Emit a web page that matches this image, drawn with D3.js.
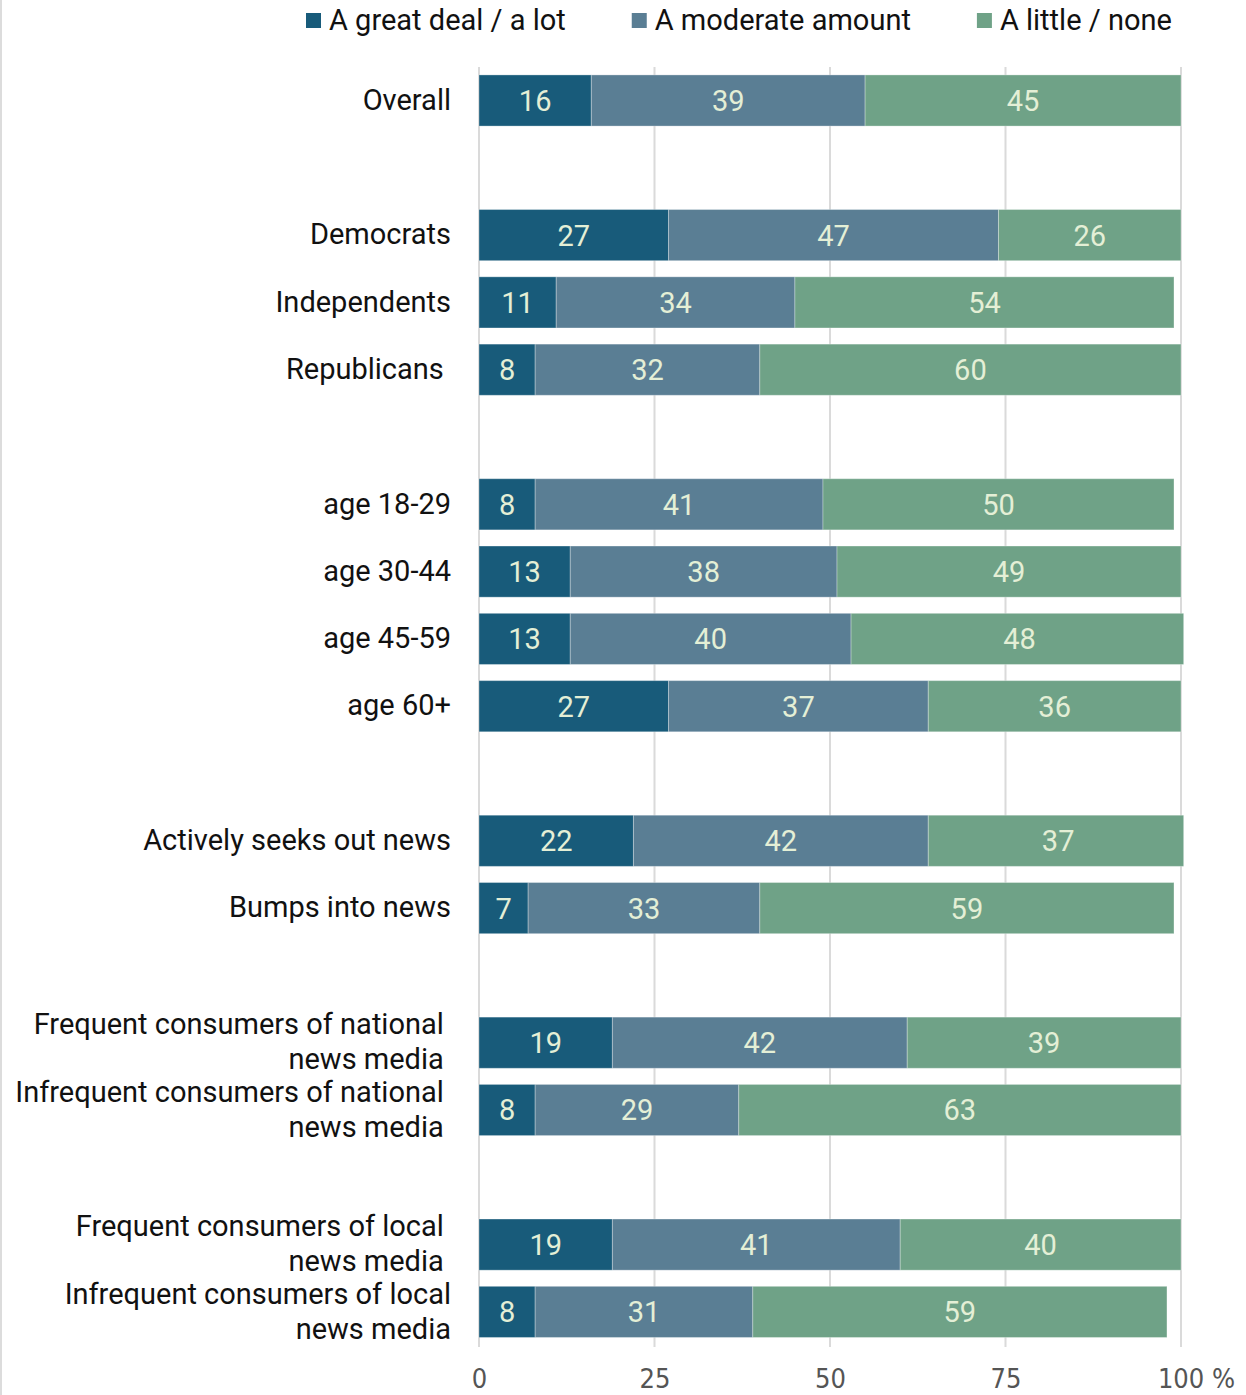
<!DOCTYPE html>
<html>
<head>
<meta charset="utf-8">
<script src="https://cdn.jsdelivr.net/npm/d3@7/dist/d3.min.js"></script>
<style>
  html, body { margin: 0; padding: 0; background: #fff; }
  svg { display: block; }
  text { font-family: Roboto, "Noto Sans", sans-serif; }
  .cat-label { white-space: pre; }
</style>
</head>
<body>
<svg id="chart" width="1246" height="1395"></svg>
<script>
// Respondent groups (trailing spaces are part of the original labels)
const categories = [
  "Overall",
  "Democrats", "Independents", "Republicans ",
  "age 18-29", "age 30-44", "age 45-59", "age 60+",
  "Actively seeks out news", "Bumps into news",
  "Frequent consumers of national \nnews media ",
  "Infrequent consumers of national \nnews media ",
  "Frequent consumers of local \nnews media ",
  "Infrequent consumers of local\nnews media"
];
// Number of rows in each visual block; blocks are separated by an empty row
const groupSizes = [1, 3, 4, 2, 2, 2];

const seriesNames = ["A great deal / a lot", "A moderate amount", "A little / none"];
const greatDeal = [16, 27, 11, 8, 8, 13, 13, 27, 22, 7, 19, 8, 19, 8];
const moderate  = [39, 47, 34, 32, 41, 38, 40, 37, 42, 33, 42, 29, 41, 31];
const little    = [45, 26, 54, 60, 50, 49, 48, 36, 37, 59, 39, 63, 40, 59];

const tickValues = [0, 25, 50, 75, 100];
const tickLabels = ["0", "25", "50", "75", "100 %"];

const colors = ["#185b7a", "#5a7e94", "#6fa287"];

// ---- layout ----
const svg = d3.select("#chart");
const W = 1246, H = 1395;
const FS = 29;

// left border line
svg.append("rect").attr("x", 0).attr("y", 0).attr("width", 2).attr("height", H).attr("fill", "#dcdcdc");

// Build the row slots: categories with spacer slots between blocks
const slots = [];
let ci = 0;
groupSizes.forEach((n, g) => {
  if (g > 0) slots.push("gap-" + g);
  for (let k = 0; k < n; k++) slots.push("cat-" + (ci++));
});

const x = d3.scaleLinear().domain([0, 100]).range([479, 1181]);
const y = d3.scaleBand().domain(slots).range([66.85, 1345.55]).paddingInner(0.24).paddingOuter(0.12);

const rows = categories.map((c, i) => ({
  key: "cat-" + i,
  label: c,
  values: [greatDeal[i], moderate[i], little[i]]
}));

// gridlines
svg.append("g").selectAll("line").data(tickValues).join("line")
  .attr("x1", d => x(d)).attr("x2", d => x(d))
  .attr("y1", 67).attr("y2", 1347)
  .attr("stroke", "#dadada").attr("stroke-width", 2);

// clip so stacks summing above 100 stop just past the 100 line
svg.append("defs").append("clipPath").attr("id", "plotClip")
  .append("rect").attr("x", x(0) - 2).attr("y", 0).attr("width", x(100) - x(0) + 4.5).attr("height", H);

// stacked bars
const stack = d3.stack().keys([0, 1, 2]).value((d, k) => d.values[k]);
const layers = stack(rows);

const barG = svg.append("g").attr("clip-path", "url(#plotClip)");
layers.forEach((layer, li) => {
  barG.append("g").selectAll("rect").data(layer).join("rect")
    .attr("x", d => x(d[0]))
    .attr("y", d => y(d.data.key))
    .attr("width", d => x(d[1]) - x(d[0]))
    .attr("height", y.bandwidth())
    .attr("fill", colors[li])
    .attr("stroke", "rgba(255,255,255,0.3)")
    .attr("stroke-width", 1);
});

// value labels
layers.forEach((layer, li) => {
  svg.append("g").selectAll("text").data(layer).join("text")
    .attr("x", d => x((d[0] + d[1]) / 2))
    .attr("y", d => y(d.data.key) + y.bandwidth() / 2)
    .attr("dy", "0.36em")
    .attr("text-anchor", "middle")
    .attr("font-size", FS)
    .attr("fill", "#e4efd6")
    .text(d => d.data.values[li]);
});

// category labels
const lineH = 35;
const catG = svg.append("g");
rows.forEach(r => {
  const lines = r.label.split("\n");
  const cy = y(r.key) + y.bandwidth() / 2;
  const t = catG.append("text")
    .attr("class", "cat-label")
    .attr("text-anchor", "end")
    .attr("font-size", FS)
    .attr("fill", "#111");
  lines.forEach((ln, i) => {
    t.append("tspan")
      .attr("x", 451)
      .attr("y", cy + (i - (lines.length - 1) / 2) * lineH)
      .attr("dy", "0.32em")
      .text(ln);
  });
});

// bottom axis labels
const axis = d3.axisBottom(x).tickValues(tickValues)
  .tickFormat((d, i) => tickLabels[i]).tickSize(0).tickPadding(0);
const axG = svg.append("g").attr("transform", "translate(0,1388)").call(axis);
axG.select(".domain").remove();
axG.selectAll("text")
  .attr("y", 0).attr("dy", 0)
  .attr("font-size", 27)
  .attr("fill", "#555")
  .style("font-family", "'Liberation Sans Narrow', 'DejaVu Sans Condensed', sans-serif")
  .attr("dx", (d, i) => i === tickValues.length - 1 ? 15 : 0);

// legend
const leg = svg.append("g");
let lx = 306;
seriesNames.forEach((name, i) => {
  const g = leg.append("g").attr("transform", `translate(${lx},0)`);
  g.append("rect").attr("x", 0).attr("y", 13).attr("width", 15).attr("height", 15).attr("fill", colors[i]);
  const t = g.append("text").attr("x", 23).attr("y", 20).attr("dy", "0.36em")
    .attr("font-size", FS).attr("fill", "#111").text(name);
  lx += 23 + t.node().getComputedTextLength() + 66;
});
</script>
</body>
</html>
